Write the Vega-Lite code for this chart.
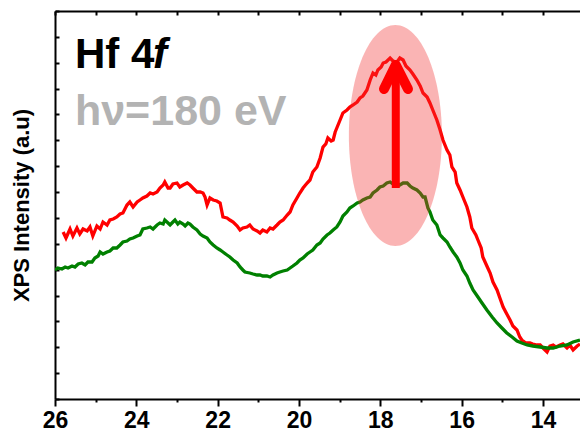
{
  "$schema": "https://vega.github.io/schema/vega-lite/v6.json",
  "width": 525,
  "height": 388,
  "autosize": "none",
  "padding": {"left": 55, "top": 11, "right": 0, "bottom": 35},
  "background": "white",
  "config": {
    "view": {"stroke": null},
    "font": "Liberation Sans",
    "axis": {"domainColor": "black", "domainWidth": 2, "tickColor": "black", "tickWidth": 2, "grid": false}
  },
  "resolve": {"axis": {"x": "independent", "y": "independent"}},
  "datasets": {
    "spectra": [
      {"be": 25.80, "intensity": 167, "series": "upper"},
      {"be": 25.73, "intensity": 161, "series": "upper"},
      {"be": 25.63, "intensity": 170, "series": "upper"},
      {"be": 25.56, "intensity": 163, "series": "upper"},
      {"be": 25.46, "intensity": 171, "series": "upper"},
      {"be": 25.39, "intensity": 165, "series": "upper"},
      {"be": 25.31, "intensity": 170, "series": "upper"},
      {"be": 25.21, "intensity": 168, "series": "upper"},
      {"be": 25.14, "intensity": 172, "series": "upper"},
      {"be": 25.07, "intensity": 163, "series": "upper"},
      {"be": 24.97, "intensity": 173, "series": "upper"},
      {"be": 24.89, "intensity": 170, "series": "upper"},
      {"be": 24.82, "intensity": 177, "series": "upper"},
      {"be": 24.72, "intensity": 174, "series": "upper"},
      {"be": 24.65, "intensity": 179, "series": "upper"},
      {"be": 24.57, "intensity": 180, "series": "upper"},
      {"be": 24.48, "intensity": 182, "series": "upper"},
      {"be": 24.40, "intensity": 185, "series": "upper"},
      {"be": 24.33, "intensity": 186, "series": "upper"},
      {"be": 24.23, "intensity": 194, "series": "upper"},
      {"be": 24.16, "intensity": 197, "series": "upper"},
      {"be": 24.08, "intensity": 192, "series": "upper"},
      {"be": 23.98, "intensity": 197, "series": "upper"},
      {"be": 23.91, "intensity": 199, "series": "upper"},
      {"be": 23.84, "intensity": 201, "series": "upper"},
      {"be": 23.74, "intensity": 203, "series": "upper"},
      {"be": 23.66, "intensity": 206, "series": "upper"},
      {"be": 23.59, "intensity": 205, "series": "upper"},
      {"be": 23.49, "intensity": 207, "series": "upper"},
      {"be": 23.42, "intensity": 211, "series": "upper"},
      {"be": 23.34, "intensity": 214, "series": "upper"},
      {"be": 23.30, "intensity": 217, "series": "upper"},
      {"be": 23.22, "intensity": 211, "series": "upper"},
      {"be": 23.17, "intensity": 211, "series": "upper"},
      {"be": 23.10, "intensity": 215, "series": "upper"},
      {"be": 23.00, "intensity": 216, "series": "upper"},
      {"be": 22.93, "intensity": 212, "series": "upper"},
      {"be": 22.85, "intensity": 214, "series": "upper"},
      {"be": 22.75, "intensity": 216, "series": "upper"},
      {"be": 22.68, "intensity": 214, "series": "upper"},
      {"be": 22.61, "intensity": 211, "series": "upper"},
      {"be": 22.51, "intensity": 207, "series": "upper"},
      {"be": 22.43, "intensity": 207, "series": "upper"},
      {"be": 22.36, "intensity": 206, "series": "upper"},
      {"be": 22.31, "intensity": 202, "series": "upper"},
      {"be": 22.26, "intensity": 194, "series": "upper"},
      {"be": 22.19, "intensity": 201, "series": "upper"},
      {"be": 22.11, "intensity": 199, "series": "upper"},
      {"be": 22.02, "intensity": 198, "series": "upper"},
      {"be": 21.94, "intensity": 196, "series": "upper"},
      {"be": 21.87, "intensity": 182, "series": "upper"},
      {"be": 21.77, "intensity": 181, "series": "upper"},
      {"be": 21.70, "intensity": 179, "series": "upper"},
      {"be": 21.62, "intensity": 177, "series": "upper"},
      {"be": 21.52, "intensity": 173, "series": "upper"},
      {"be": 21.45, "intensity": 169, "series": "upper"},
      {"be": 21.38, "intensity": 171, "series": "upper"},
      {"be": 21.28, "intensity": 172, "series": "upper"},
      {"be": 21.21, "intensity": 174, "series": "upper"},
      {"be": 21.13, "intensity": 170, "series": "upper"},
      {"be": 21.03, "intensity": 168, "series": "upper"},
      {"be": 20.96, "intensity": 166, "series": "upper"},
      {"be": 20.89, "intensity": 169, "series": "upper"},
      {"be": 20.79, "intensity": 167, "series": "upper"},
      {"be": 20.71, "intensity": 171, "series": "upper"},
      {"be": 20.64, "intensity": 170, "series": "upper"},
      {"be": 20.54, "intensity": 174, "series": "upper"},
      {"be": 20.47, "intensity": 177, "series": "upper"},
      {"be": 20.39, "intensity": 179, "series": "upper"},
      {"be": 20.29, "intensity": 184, "series": "upper"},
      {"be": 20.22, "intensity": 187, "series": "upper"},
      {"be": 20.15, "intensity": 194, "series": "upper"},
      {"be": 20.05, "intensity": 201, "series": "upper"},
      {"be": 19.98, "intensity": 206, "series": "upper"},
      {"be": 19.90, "intensity": 211, "series": "upper"},
      {"be": 19.80, "intensity": 216, "series": "upper"},
      {"be": 19.73, "intensity": 219, "series": "upper"},
      {"be": 19.66, "intensity": 227, "series": "upper"},
      {"be": 19.56, "intensity": 232, "series": "upper"},
      {"be": 19.48, "intensity": 241, "series": "upper"},
      {"be": 19.41, "intensity": 252, "series": "upper"},
      {"be": 19.34, "intensity": 255, "series": "upper"},
      {"be": 19.29, "intensity": 261, "series": "upper"},
      {"be": 19.21, "intensity": 258, "series": "upper"},
      {"be": 19.16, "intensity": 259, "series": "upper"},
      {"be": 19.11, "intensity": 267, "series": "upper"},
      {"be": 19.07, "intensity": 271, "series": "upper"},
      {"be": 18.99, "intensity": 279, "series": "upper"},
      {"be": 18.92, "intensity": 286, "series": "upper"},
      {"be": 18.82, "intensity": 289, "series": "upper"},
      {"be": 18.75, "intensity": 292, "series": "upper"},
      {"be": 18.67, "intensity": 294, "series": "upper"},
      {"be": 18.57, "intensity": 297, "series": "upper"},
      {"be": 18.50, "intensity": 301, "series": "upper"},
      {"be": 18.43, "intensity": 303, "series": "upper"},
      {"be": 18.33, "intensity": 309, "series": "upper"},
      {"be": 18.25, "intensity": 319, "series": "upper"},
      {"be": 18.18, "intensity": 326, "series": "upper"},
      {"be": 18.11, "intensity": 324, "series": "upper"},
      {"be": 18.06, "intensity": 329, "series": "upper"},
      {"be": 17.98, "intensity": 332, "series": "upper"},
      {"be": 17.93, "intensity": 336, "series": "upper"},
      {"be": 17.86, "intensity": 337, "series": "upper"},
      {"be": 17.76, "intensity": 341, "series": "upper"},
      {"be": 17.69, "intensity": 338, "series": "upper"},
      {"be": 17.59, "intensity": 337, "series": "upper"},
      {"be": 17.52, "intensity": 341, "series": "upper"},
      {"be": 17.44, "intensity": 339, "series": "upper"},
      {"be": 17.37, "intensity": 333, "series": "upper"},
      {"be": 17.27, "intensity": 329, "series": "upper"},
      {"be": 17.20, "intensity": 325, "series": "upper"},
      {"be": 17.10, "intensity": 319, "series": "upper"},
      {"be": 17.02, "intensity": 313, "series": "upper"},
      {"be": 16.95, "intensity": 306, "series": "upper"},
      {"be": 16.85, "intensity": 302, "series": "upper"},
      {"be": 16.78, "intensity": 296, "series": "upper"},
      {"be": 16.71, "intensity": 289, "series": "upper"},
      {"be": 16.61, "intensity": 279, "series": "upper"},
      {"be": 16.53, "intensity": 269, "series": "upper"},
      {"be": 16.46, "intensity": 259, "series": "upper"},
      {"be": 16.36, "intensity": 249, "series": "upper"},
      {"be": 16.29, "intensity": 244, "series": "upper"},
      {"be": 16.24, "intensity": 232, "series": "upper"},
      {"be": 16.16, "intensity": 227, "series": "upper"},
      {"be": 16.12, "intensity": 216, "series": "upper"},
      {"be": 16.04, "intensity": 209, "series": "upper"},
      {"be": 15.97, "intensity": 202, "series": "upper"},
      {"be": 15.87, "intensity": 192, "series": "upper"},
      {"be": 15.80, "intensity": 182, "series": "upper"},
      {"be": 15.75, "intensity": 171, "series": "upper"},
      {"be": 15.65, "intensity": 164, "series": "upper"},
      {"be": 15.60, "intensity": 159, "series": "upper"},
      {"be": 15.52, "intensity": 151, "series": "upper"},
      {"be": 15.48, "intensity": 142, "series": "upper"},
      {"be": 15.38, "intensity": 133, "series": "upper"},
      {"be": 15.30, "intensity": 126, "series": "upper"},
      {"be": 15.23, "intensity": 117, "series": "upper"},
      {"be": 15.13, "intensity": 109, "series": "upper"},
      {"be": 15.06, "intensity": 101, "series": "upper"},
      {"be": 14.98, "intensity": 92, "series": "upper"},
      {"be": 14.89, "intensity": 85, "series": "upper"},
      {"be": 14.81, "intensity": 79, "series": "upper"},
      {"be": 14.74, "intensity": 73, "series": "upper"},
      {"be": 14.64, "intensity": 69, "series": "upper"},
      {"be": 14.57, "intensity": 62, "series": "upper"},
      {"be": 14.52, "intensity": 59, "series": "upper"},
      {"be": 14.42, "intensity": 56, "series": "upper"},
      {"be": 14.32, "intensity": 56, "series": "upper"},
      {"be": 14.25, "intensity": 55, "series": "upper"},
      {"be": 14.15, "intensity": 54, "series": "upper"},
      {"be": 14.07, "intensity": 54, "series": "upper"},
      {"be": 14.00, "intensity": 51, "series": "upper"},
      {"be": 13.90, "intensity": 47, "series": "upper"},
      {"be": 13.83, "intensity": 53, "series": "upper"},
      {"be": 13.75, "intensity": 54, "series": "upper"},
      {"be": 13.68, "intensity": 52, "series": "upper"},
      {"be": 13.58, "intensity": 54, "series": "upper"},
      {"be": 13.51, "intensity": 55, "series": "upper"},
      {"be": 13.41, "intensity": 51, "series": "upper"},
      {"be": 13.34, "intensity": 54, "series": "upper"},
      {"be": 13.26, "intensity": 49, "series": "upper"},
      {"be": 13.16, "intensity": 53, "series": "upper"},
      {"be": 13.09, "intensity": 55, "series": "upper"},

      {"be": 26.00, "intensity": 129, "series": "lower"},
      {"be": 25.93, "intensity": 131, "series": "lower"},
      {"be": 25.83, "intensity": 130, "series": "lower"},
      {"be": 25.75, "intensity": 132, "series": "lower"},
      {"be": 25.68, "intensity": 131, "series": "lower"},
      {"be": 25.58, "intensity": 133, "series": "lower"},
      {"be": 25.51, "intensity": 132, "series": "lower"},
      {"be": 25.43, "intensity": 135, "series": "lower"},
      {"be": 25.34, "intensity": 136, "series": "lower"},
      {"be": 25.26, "intensity": 134, "series": "lower"},
      {"be": 25.19, "intensity": 137, "series": "lower"},
      {"be": 25.09, "intensity": 137, "series": "lower"},
      {"be": 25.02, "intensity": 141, "series": "lower"},
      {"be": 24.94, "intensity": 143, "series": "lower"},
      {"be": 24.89, "intensity": 147, "series": "lower"},
      {"be": 24.82, "intensity": 145, "series": "lower"},
      {"be": 24.72, "intensity": 147, "series": "lower"},
      {"be": 24.65, "intensity": 148, "series": "lower"},
      {"be": 24.57, "intensity": 151, "series": "lower"},
      {"be": 24.48, "intensity": 151, "series": "lower"},
      {"be": 24.40, "intensity": 154, "series": "lower"},
      {"be": 24.33, "intensity": 157, "series": "lower"},
      {"be": 24.23, "intensity": 158, "series": "lower"},
      {"be": 24.16, "intensity": 160, "series": "lower"},
      {"be": 24.08, "intensity": 161, "series": "lower"},
      {"be": 23.98, "intensity": 163, "series": "lower"},
      {"be": 23.91, "intensity": 164, "series": "lower"},
      {"be": 23.84, "intensity": 170, "series": "lower"},
      {"be": 23.74, "intensity": 171, "series": "lower"},
      {"be": 23.66, "intensity": 172, "series": "lower"},
      {"be": 23.59, "intensity": 170, "series": "lower"},
      {"be": 23.49, "intensity": 174, "series": "lower"},
      {"be": 23.42, "intensity": 176, "series": "lower"},
      {"be": 23.34, "intensity": 175, "series": "lower"},
      {"be": 23.30, "intensity": 179, "series": "lower"},
      {"be": 23.22, "intensity": 176, "series": "lower"},
      {"be": 23.17, "intensity": 174, "series": "lower"},
      {"be": 23.10, "intensity": 177, "series": "lower"},
      {"be": 23.05, "intensity": 179, "series": "lower"},
      {"be": 22.98, "intensity": 175, "series": "lower"},
      {"be": 22.93, "intensity": 177, "series": "lower"},
      {"be": 22.85, "intensity": 175, "series": "lower"},
      {"be": 22.80, "intensity": 173, "series": "lower"},
      {"be": 22.73, "intensity": 176, "series": "lower"},
      {"be": 22.68, "intensity": 175, "series": "lower"},
      {"be": 22.61, "intensity": 172, "series": "lower"},
      {"be": 22.51, "intensity": 169, "series": "lower"},
      {"be": 22.43, "intensity": 165, "series": "lower"},
      {"be": 22.36, "intensity": 163, "series": "lower"},
      {"be": 22.26, "intensity": 161, "series": "lower"},
      {"be": 22.19, "intensity": 157, "series": "lower"},
      {"be": 22.11, "intensity": 154, "series": "lower"},
      {"be": 22.02, "intensity": 151, "series": "lower"},
      {"be": 21.94, "intensity": 149, "series": "lower"},
      {"be": 21.87, "intensity": 147, "series": "lower"},
      {"be": 21.77, "intensity": 144, "series": "lower"},
      {"be": 21.70, "intensity": 142, "series": "lower"},
      {"be": 21.62, "intensity": 139, "series": "lower"},
      {"be": 21.52, "intensity": 136, "series": "lower"},
      {"be": 21.45, "intensity": 132, "series": "lower"},
      {"be": 21.38, "intensity": 129, "series": "lower"},
      {"be": 21.33, "intensity": 127, "series": "lower"},
      {"be": 21.21, "intensity": 126, "series": "lower"},
      {"be": 21.13, "intensity": 125, "series": "lower"},
      {"be": 21.03, "intensity": 124, "series": "lower"},
      {"be": 20.96, "intensity": 124, "series": "lower"},
      {"be": 20.89, "intensity": 123, "series": "lower"},
      {"be": 20.79, "intensity": 123, "series": "lower"},
      {"be": 20.71, "intensity": 122, "series": "lower"},
      {"be": 20.64, "intensity": 124, "series": "lower"},
      {"be": 20.54, "intensity": 126, "series": "lower"},
      {"be": 20.47, "intensity": 127, "series": "lower"},
      {"be": 20.39, "intensity": 128, "series": "lower"},
      {"be": 20.29, "intensity": 129, "series": "lower"},
      {"be": 20.22, "intensity": 131, "series": "lower"},
      {"be": 20.15, "intensity": 133, "series": "lower"},
      {"be": 20.05, "intensity": 136, "series": "lower"},
      {"be": 19.98, "intensity": 139, "series": "lower"},
      {"be": 19.90, "intensity": 141, "series": "lower"},
      {"be": 19.80, "intensity": 145, "series": "lower"},
      {"be": 19.73, "intensity": 147, "series": "lower"},
      {"be": 19.66, "intensity": 149, "series": "lower"},
      {"be": 19.56, "intensity": 154, "series": "lower"},
      {"be": 19.48, "intensity": 156, "series": "lower"},
      {"be": 19.41, "intensity": 160, "series": "lower"},
      {"be": 19.31, "intensity": 164, "series": "lower"},
      {"be": 19.24, "intensity": 166, "series": "lower"},
      {"be": 19.16, "intensity": 169, "series": "lower"},
      {"be": 19.07, "intensity": 172, "series": "lower"},
      {"be": 18.99, "intensity": 177, "series": "lower"},
      {"be": 18.92, "intensity": 183, "series": "lower"},
      {"be": 18.82, "intensity": 187, "series": "lower"},
      {"be": 18.75, "intensity": 191, "series": "lower"},
      {"be": 18.67, "intensity": 193, "series": "lower"},
      {"be": 18.57, "intensity": 196, "series": "lower"},
      {"be": 18.50, "intensity": 197, "series": "lower"},
      {"be": 18.43, "intensity": 199, "series": "lower"},
      {"be": 18.33, "intensity": 201, "series": "lower"},
      {"be": 18.25, "intensity": 202, "series": "lower"},
      {"be": 18.18, "intensity": 206, "series": "lower"},
      {"be": 18.08, "intensity": 209, "series": "lower"},
      {"be": 18.01, "intensity": 212, "series": "lower"},
      {"be": 17.93, "intensity": 213, "series": "lower"},
      {"be": 17.84, "intensity": 216, "series": "lower"},
      {"be": 17.76, "intensity": 217, "series": "lower"},
      {"be": 17.69, "intensity": 215, "series": "lower"},
      {"be": 17.59, "intensity": 216, "series": "lower"},
      {"be": 17.52, "intensity": 214, "series": "lower"},
      {"be": 17.44, "intensity": 216, "series": "lower"},
      {"be": 17.34, "intensity": 216, "series": "lower"},
      {"be": 17.27, "intensity": 213, "series": "lower"},
      {"be": 17.20, "intensity": 211, "series": "lower"},
      {"be": 17.10, "intensity": 209, "series": "lower"},
      {"be": 17.02, "intensity": 206, "series": "lower"},
      {"be": 16.95, "intensity": 202, "series": "lower"},
      {"be": 16.90, "intensity": 202, "series": "lower"},
      {"be": 16.83, "intensity": 191, "series": "lower"},
      {"be": 16.78, "intensity": 187, "series": "lower"},
      {"be": 16.71, "intensity": 179, "series": "lower"},
      {"be": 16.61, "intensity": 174, "series": "lower"},
      {"be": 16.53, "intensity": 164, "series": "lower"},
      {"be": 16.46, "intensity": 161, "series": "lower"},
      {"be": 16.36, "intensity": 157, "series": "lower"},
      {"be": 16.29, "intensity": 152, "series": "lower"},
      {"be": 16.21, "intensity": 147, "series": "lower"},
      {"be": 16.12, "intensity": 142, "series": "lower"},
      {"be": 16.04, "intensity": 136, "series": "lower"},
      {"be": 15.97, "intensity": 129, "series": "lower"},
      {"be": 15.87, "intensity": 123, "series": "lower"},
      {"be": 15.80, "intensity": 116, "series": "lower"},
      {"be": 15.72, "intensity": 109, "series": "lower"},
      {"be": 15.60, "intensity": 102, "series": "lower"},
      {"be": 15.50, "intensity": 96, "series": "lower"},
      {"be": 15.38, "intensity": 89, "series": "lower"},
      {"be": 15.25, "intensity": 82, "series": "lower"},
      {"be": 15.13, "intensity": 76, "series": "lower"},
      {"be": 15.01, "intensity": 71, "series": "lower"},
      {"be": 14.89, "intensity": 66, "series": "lower"},
      {"be": 14.76, "intensity": 62, "series": "lower"},
      {"be": 14.64, "intensity": 58, "series": "lower"},
      {"be": 14.52, "intensity": 56, "series": "lower"},
      {"be": 14.39, "intensity": 54, "series": "lower"},
      {"be": 14.25, "intensity": 53, "series": "lower"},
      {"be": 14.07, "intensity": 52, "series": "lower"},
      {"be": 13.90, "intensity": 51, "series": "lower"},
      {"be": 13.75, "intensity": 51, "series": "lower"},
      {"be": 13.58, "intensity": 53, "series": "lower"},
      {"be": 13.41, "intensity": 54, "series": "lower"},
      {"be": 13.26, "intensity": 57, "series": "lower"},
      {"be": 13.09, "intensity": 59, "series": "lower"}
    ],
    "highlight": [{"be": 17.63, "intensity": 263.5}],
    "shaft": [{"be": 17.62, "from": 211, "to": 330}],
    "head": [
      {"be": 17.91, "intensity": 310, "step": 1},
      {"be": 17.62, "intensity": 334, "step": 2},
      {"be": 17.32, "intensity": 310, "step": 3}
    ],
    "core": [{"be": 25.51, "intensity": 331, "text": "Hf 4"}],
    "orbital": [{"be": 23.59, "intensity": 331, "text": "f"}],
    "photon": [{"be": 25.51, "intensity": 274, "text": "hν=180 eV"}]
  },
  "layer": [
    {
      "data": {"name": "spectra"},
      "mark": {"type": "line", "strokeWidth": 3.3, "clip": true},
      "encoding": {
        "x": {
          "field": "be", "type": "quantitative",
          "scale": {"domain": [26, 13.09], "nice": false, "zero": false},
          "axis": {
            "orient": "bottom", "title": null,
            "values": [14, 15, 16, 17, 18, 19, 20, 21, 22, 23, 24, 25, 26],
            "labelExpr": "datum.value % 2 === 0 ? datum.label : ''",
            "tickSize": {"condition": {"test": "datum.value % 2 === 0", "value": 7}, "value": 3},
            "labelFont": "Liberation Sans", "labelFontWeight": "bold", "labelFontSize": 23,
            "labelColor": "black", "labelPadding": 3, "labelFlush": false, "labelOverlap": false
          }
        },
        "y": {
          "field": "intensity", "type": "quantitative",
          "scale": {"domain": [0, 388], "nice": false, "zero": false},
          "axis": {
            "orient": "left", "title": "XPS Intensity (a.u)",
            "values": [0, 25.87, 51.73, 77.6, 103.47, 129.33, 155.2, 181.07, 206.93, 232.8, 258.67, 284.53, 310.4, 336.27, 362.13, 388],
            "labels": false, "tickSize": -4,
            "titleFont": "Liberation Sans", "titleFontWeight": "bold", "titleFontSize": 22,
            "titleColor": "black", "titlePadding": 21
          }
        },
        "color": {
          "field": "series", "type": "nominal",
          "scale": {"domain": ["upper", "lower"], "range": ["#ff0000", "#008000"]},
          "legend": null
        }
      }
    },
    {
      "data": {"name": "highlight"},
      "mark": {
        "type": "point", "filled": true, "color": "#f03030", "opacity": 0.36,
        "size": 48841,
        "shape": "M0,-1C0.2325,-1,0.421,-0.5523,0.421,0C0.421,0.5523,0.2325,1,0,1C-0.2325,1,-0.421,0.5523,-0.421,0C-0.421,-0.5523,-0.2325,-1,0,-1Z"
      },
      "encoding": {
        "x": {
          "field": "be", "type": "quantitative",
          "axis": {
            "orient": "top", "title": null, "labels": false,
            "values": [14, 15, 16, 17, 18, 19, 20, 21, 22, 23, 24, 25, 26],
            "tickSize": -4
          }
        },
        "y": {"field": "intensity", "type": "quantitative", "axis": null}
      }
    },
    {
      "data": {"name": "shaft"},
      "mark": {"type": "rule", "color": "#ff0000", "strokeWidth": 8, "strokeCap": "butt"},
      "encoding": {
        "x": {"field": "be", "type": "quantitative", "axis": null},
        "y": {"field": "from", "type": "quantitative", "axis": null},
        "y2": {"field": "to"}
      }
    },
    {
      "data": {"name": "head"},
      "mark": {"type": "line", "color": "#ff0000", "strokeWidth": 10, "strokeCap": "round", "strokeJoin": "round"},
      "encoding": {
        "x": {"field": "be", "type": "quantitative", "axis": null},
        "y": {"field": "intensity", "type": "quantitative", "axis": null},
        "order": {"field": "step"}
      }
    },
    {
      "data": {"name": "core"},
      "mark": {"type": "text", "align": "left", "baseline": "alphabetic", "font": "Liberation Sans", "fontWeight": "bold", "fontSize": 42, "color": "black"},
      "encoding": {
        "x": {"field": "be", "type": "quantitative", "axis": null},
        "y": {"field": "intensity", "type": "quantitative", "axis": null},
        "text": {"field": "text"}
      }
    },
    {
      "data": {"name": "orbital"},
      "mark": {"type": "text", "align": "left", "baseline": "alphabetic", "font": "Liberation Sans", "fontWeight": "bold", "fontStyle": "italic", "fontSize": 42, "color": "black"},
      "encoding": {
        "x": {"field": "be", "type": "quantitative", "axis": null},
        "y": {"field": "intensity", "type": "quantitative", "axis": null},
        "text": {"field": "text"}
      }
    },
    {
      "data": {"name": "photon"},
      "mark": {"type": "text", "align": "left", "baseline": "alphabetic", "font": "Liberation Sans", "fontWeight": "bold", "fontSize": 43, "color": "#b3b3b3"},
      "encoding": {
        "x": {"field": "be", "type": "quantitative", "axis": null},
        "y": {"field": "intensity", "type": "quantitative", "axis": null},
        "text": {"field": "text"}
      }
    }
  ]
}
